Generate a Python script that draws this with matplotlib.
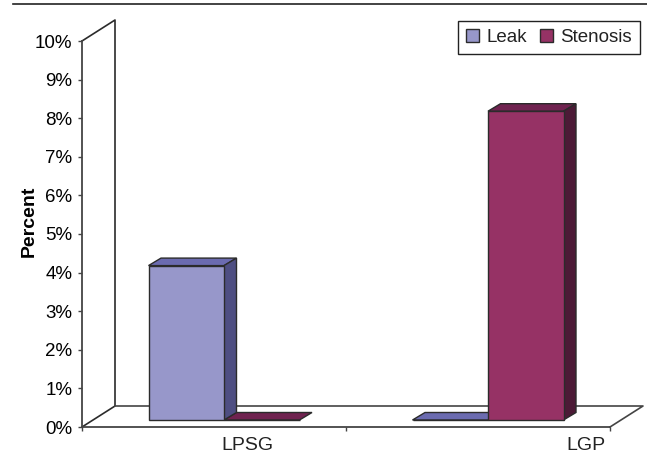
#!/usr/bin/env python3
import matplotlib

matplotlib.use("Agg")
import matplotlib.pyplot as plt
from matplotlib.lines import Line2D
from matplotlib.patches import Patch, Polygon

W, H = 647, 463
categories = ["LPSG", "LGP"]
series = ["Leak", "Stenosis"]
leak = [4, 0]
stenosis = [0, 8]
yticks = list(range(0, 11))

INK = "#2b2b2b"
LEAK = ("#9797ca", "#6b6bb0", "#4e4e82")
STEN = ("#963265", "#702350", "#4c1a36")

plt.rcParams.update({
    "font.family": ["Liberation Sans", "DejaVu Sans"],
    "font.size": 13.5, "text.color": "#222222",
})

fig = plt.figure(figsize=(W / 100, H / 100), dpi=100)
# plot floor front edge: x 82..610 px, 0% at y=427, 10% at y=41
ax = fig.add_axes([82 / W, 1 - 427 / H, (610 - 82) / W, (427 - 41) / H])
ax.set_xlim(0, 2); ax.set_ylim(0, 10)
ax.patch.set_alpha(0)
PX = 264.0   # px per category
PY = 38.6    # px per percent


def depth(dx, dy):
    return dx / PX, dy / PY


# walls / floor outline
fx, fy = depth(33, 21)
wall = [(0, 10), (fx, 10 + fy), (fx, fy), (0, 0)]
ax.add_line(Line2D(*zip(*wall), color=INK, lw=1.2, clip_on=False, zorder=1))
floor = [(fx, fy), (2 + fx, fy), (2, 0)]
ax.add_line(Line2D(*zip(*floor), color="#444444", lw=1.2, clip_on=False, zorder=1))

# bars: sit part way into the floor
bw = 75.5 / PX
ox, oy = depth(10, 7)
bx, by = depth(12.5, 7.5)


def bar3d(x0, v, cols, z):
    x1 = x0 + bw
    ax.bar(x0, v, bw, bottom=oy, align="edge", color=cols[0], edgecolor=INK,
           lw=1.0, clip_on=False, zorder=z + 0.2)
    top = oy + v
    ax.add_patch(Polygon([(x0, top), (x0 + bx, top + by), (x1 + bx, top + by), (x1, top)],
                         facecolor=cols[1], edgecolor=INK, lw=1.0, clip_on=False, zorder=z))
    if v > 0:
        ax.add_patch(Polygon([(x1, oy), (x1 + bx, oy + by), (x1 + bx, top + by), (x1, top)],
                             facecolor=cols[2], edgecolor=INK, lw=1.0, clip_on=False, zorder=z))


for i in range(len(categories)):
    mid = i + 0.5 + ox
    bar3d(mid - bw, leak[i], LEAK, 3)
    bar3d(mid, stenosis[i], STEN, 4 if stenosis[i] else 2)

for s in ("top", "right"):
    ax.spines[s].set_visible(False)
for s in ("left", "bottom"):
    ax.spines[s].set_color("#444444")
    ax.spines[s].set_linewidth(1.3)
ax.set_yticks(yticks)
ax.set_yticklabels([f"{t}%" for t in yticks])
ax.set_xticks([0, 1, 2])
ax.set_xticklabels([])
ax.tick_params(length=3, width=1, color="#444444", pad=4, labelsize=13.5)
ax.set_ylabel("Percent", fontweight="bold", fontsize=14)
ax.yaxis.set_label_coords(-(82 - 38) / 528, 0.532)

# category labels are shifted off the tick intervals in the source
for name, px in zip(categories, (247, 586)):
    fig.text(px / W, 1 - 445 / H, name, ha="center", va="center", fontsize=14)

handles = [Patch(facecolor=LEAK[0], edgecolor=INK, lw=1.0),
           Patch(facecolor=STEN[0], edgecolor=INK, lw=1.0)]
fig.legend(handles, series, ncol=2, loc="upper right",
           bbox_to_anchor=(640 / W, 1 - 21 / H), frameon=True, fancybox=False,
           edgecolor="#222222", framealpha=1, fontsize=13.5, handlelength=0.7,
           handleheight=0.7, handletextpad=0.38, columnspacing=0.72,
           borderpad=0.42, borderaxespad=0)

# top rule of the page
fig.add_artist(Line2D([13 / W, 1], [1 - 3.5 / H] * 2, color="#222222", lw=1.2))

fig.savefig("out.png", dpi=100)
